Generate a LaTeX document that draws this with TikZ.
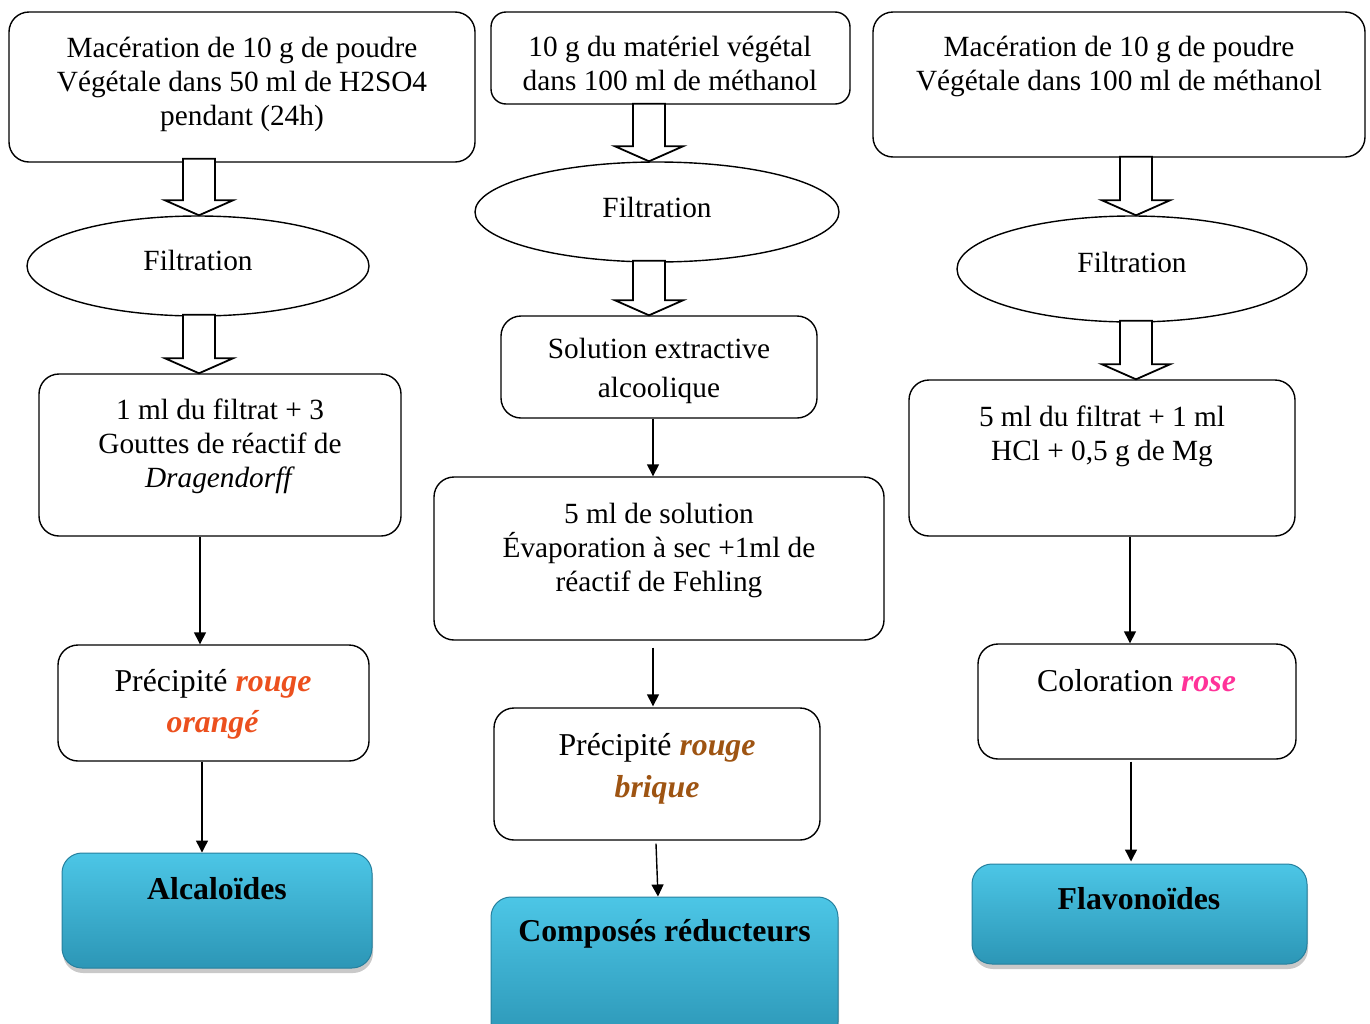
\documentclass[tikz,border=0pt]{standalone}
\usepackage{fontspec}
\setmainfont{Liberation Serif}
\usetikzlibrary{shapes.geometric,arrows.meta,shadows,calc}
\definecolor{orangec}{RGB}{236,80,30}
\definecolor{briquec}{RGB}{158,84,18}
\definecolor{rosec}{RGB}{255,51,153}
\definecolor{bluetop}{RGB}{76,198,230}
\definecolor{bluebot}{RGB}{44,150,182}
\definecolor{blueedge}{RGB}{38,128,158}
\tikzset{
  box/.style={draw, line width=1.4pt, rounded corners=20pt, fill=white, inner sep=0pt},
  ell/.style={draw, line width=1.4pt, ellipse, fill=white, inner sep=0pt},
  bluebox/.style={rounded corners=20pt, top color=bluetop, bottom color=bluebot,
    draw=blueedge, line width=1pt, inner sep=0pt,
    drop shadow={shadow xshift=1pt, shadow yshift=-5pt, opacity=0.3, fill=black!70}},
  txt/.style={align=center, font=\fontsize{29.3}{34}\selectfont, inner sep=0pt},
  ltxt/.style={align=center, font=\fontsize{31.8}{36}\selectfont, inner sep=0pt},
  btxt/.style={align=center, font=\fontsize{31.8}{36}\selectfont\bfseries, inner sep=0pt},
  arr/.style={line width=1.4pt, -{Triangle[length=12pt,width=12pt]}},
  barr/.style={draw, line width=1.8pt, fill=white, line join=miter}
}
\newcommand\barrow[2]{%
  \draw[barr] let \p1=(#1), \p2=(#2) in
    (\x2-16pt,\y1) -- (\x2+16pt,\y1) -- (\x2+16pt,\y2+15pt) -- (\x2+34pt,\y2+15pt)
    -- (\x2,\y2) -- (\x2-34pt,\y2+15pt) -- (\x2-16pt,\y2+15pt) -- cycle;}
\begin{document}
\begin{tikzpicture}[x=1pt,y=-1pt]
\useasboundingbox (0,0) rectangle (1370,1023);
% ---------- left column
\node[box, minimum width=466pt, minimum height=150pt] (L1) at (242,87) {};
\node[ell, minimum width=342pt, minimum height=100pt] (EL) at (198,266) {};
\node[box, minimum width=362pt, minimum height=162pt] (L2) at (220,455) {};
\node[box, minimum width=311pt, minimum height=116pt] (L3) at (213.5,703) {};
\node[bluebox, minimum width=310pt, minimum height=115pt] (L4) at (217,910.5) {};
% ---------- middle column
\node[box, rounded corners=15pt, minimum width=359pt, minimum height=92pt] (M1) at (670.5,58) {};
\node[ell, minimum width=364pt, minimum height=100pt] (EM) at (657,212) {};
\node[box, minimum width=316pt, minimum height=102pt] (M2) at (659,367) {};
\node[box, minimum width=450pt, minimum height=163pt] (M3) at (659,558.5) {};
\node[box, minimum width=326pt, minimum height=132pt] (M4) at (657,774) {};
\node[bluebox, minimum width=347pt, minimum height=145pt] (M5) at (664.5,969.5) {};
% ---------- right column
\node[box, minimum width=492pt, minimum height=145pt] (R1) at (1119,84.5) {};
\node[ell, minimum width=350pt, minimum height=106pt] (ER) at (1132,269) {};
\node[box, minimum width=386pt, minimum height=156pt] (R2) at (1102,458) {};
\node[box, minimum width=318pt, minimum height=115pt] (R3) at (1137,701.5) {};
\node[bluebox, minimum width=335pt, minimum height=100pt] (R4) at (1139.5,914) {};
% ---------- block arrows
\barrow{[yshift=4pt]L1.south}{$(EL.north)+(1,0)$}
\barrow{[yshift=2pt]EL.south}{$(L2.north -| EL.north)+(1,0)$}
\barrow{[yshift=1pt]M1.south}{$(EM.north)+(-8,0)$}
\barrow{[yshift=2pt]EM.south}{$(M2.north -| EM.north)+(-8,0)$}
\barrow{[yshift=1pt]R1.south}{$(ER.north)+(4,0)$}
\barrow{[yshift=2pt]ER.south}{$(R2.north -| ER.north)+(4,0)$}
% ---------- thin arrows
\draw[arr] ([xshift=-20pt]L2.south) -- ([xshift=-13.5pt]L3.north);
\draw[arr] ([xshift=-11.5pt]L3.south) -- ([xshift=-15pt]L4.north);
\draw[arr] ([xshift=-6pt]M2.south) -- ([xshift=-6pt]M3.north);
\draw[arr] ($(M3.south)+(-6,7)$) -- ($(M4.north)+(-4,-1)$);
\draw[arr] ($(M4.south)+(-1,3)$) -- ($(M5.north)+(-6.5,0)$);
\draw[arr] ([xshift=28pt]R2.south) -- ([xshift=-7pt]R3.north);
\draw[arr] ($(R3.south)+(-6,2)$) -- ($(R4.north)+(-8.5,-2)$);
% ---------- texts
\node[txt] (tL1) at (242,84) {Macération de 10 g de poudre\\Végétale dans 50 ml de H2SO4\\pendant (24h)};
\node[txt] (tEL) at (198,260) {Filtration};
\node[txt] (tL2) at (220,446) {1 ml du filtrat + 3\\Gouttes de réactif de\\\textit{Dragendorff}};
\node[ltxt] (tL3) at (213,704) {Précipité \textcolor{orangec}{\textbf{\textit{rouge}}}\\[5pt]\textcolor{orangec}{\textbf{\textit{orangé}}}};
\node[btxt] (tL4) at (217,889) {Alcaloïdes};
\node[txt] (tM1) at (670,63) {10 g du matériel végétal\\dans 100 ml de méthanol};
\node[txt] (tEM) at (657,207) {Filtration};
\node[txt] (tM2) at (659,371) {Solution extractive\\[5pt]alcoolique};
\node[txt] (tM3) at (659,550) {5 ml de solution\\Évaporation à sec +1ml de\\réactif de Fehling};
\node[ltxt] (tM4) at (657,769) {Précipité \textcolor{briquec}{\textbf{\textit{rouge}}}\\[6pt]\textcolor{briquec}{\textbf{\textit{brique}}}};
\node[btxt] (tM5) at (664.5,934) {Composés réducteurs};
\node[txt] (tR1) at (1119,66) {Macération de 10 g de poudre\\Végétale dans 100 ml de méthanol};
\node[txt] (tR2) at (1102,436) {5 ml du filtrat + 1 ml\\HCl + 0,5 g de Mg};
\node[txt] (tER) at (1132,262) {Filtration};
\node[ltxt] (tR3) at (1136.5,681) {Coloration \textcolor{rosec}{\textbf{\textit{rose}}}};
\node[btxt] (tR4) at (1139,899) {Flavonoïdes};
\end{tikzpicture}
\end{document}
